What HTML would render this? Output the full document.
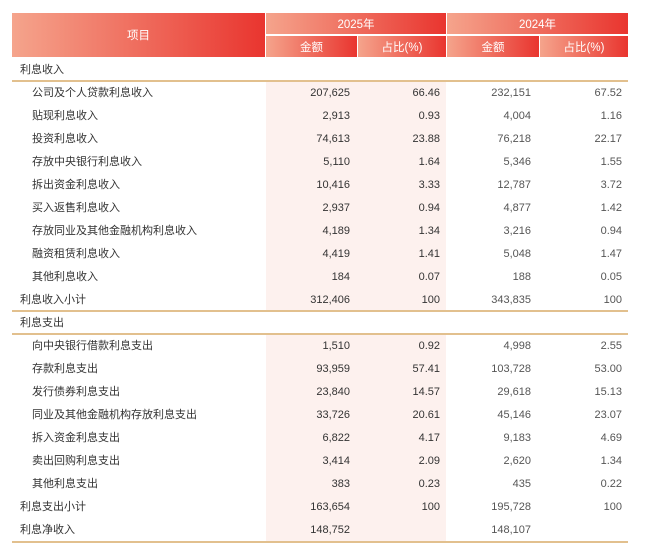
<!DOCTYPE html><html><head><meta charset="utf-8"><style>
body{margin:0;width:650px;height:546px;background:#fff;position:relative;overflow:hidden;font-family:"Liberation Sans","Noto Sans CJK SC",sans-serif;font-size:11px;color:#333}
.h{position:absolute;background:linear-gradient(90deg,#f5a48c,#e9352f);color:#fff;display:flex;align-items:center;justify-content:center;font-size:11.5px}
.pink{position:absolute;left:266px;width:180px;background:#fdf1ee}
.r{position:absolute;left:0;width:650px;height:23px;line-height:23px}
.r span{position:absolute}
.l{left:20px}.l2{left:32px}
.a{right:300px}.b{right:210px}.c{right:119px;color:#555}.d{right:28px;color:#555}
.g{position:absolute;left:12px;width:616px;height:2px;background:#e2c08e}
</style></head><body>
<div class="h" style="left:12px;top:13px;width:253px;height:44px">项目</div>
<div class="h" style="left:266px;top:13px;width:180px;height:21px">2025年</div>
<div class="h" style="left:447px;top:13px;width:181px;height:21px">2024年</div>
<div class="h" style="left:266px;top:36px;width:91px;height:21px">金额</div>
<div class="h" style="left:358px;top:36px;width:88px;height:21px">占比(%)</div>
<div class="h" style="left:447px;top:36px;width:92px;height:21px">金额</div>
<div class="h" style="left:540px;top:36px;width:88px;height:21px">占比(%)</div>
<div class="pink" style="top:82px;height:228px"></div>
<div class="pink" style="top:335px;height:206px"></div>
<div class="r" style="top:59px"><span class="l">利息收入</span></div>
<div class="g" style="top:80px"></div>
<div class="r" style="top:82px"><span class="l2">公司及个人贷款利息收入</span><span class="a">207,625</span><span class="b">66.46</span><span class="c">232,151</span><span class="d">67.52</span></div>
<div class="r" style="top:105px"><span class="l2">贴现利息收入</span><span class="a">2,913</span><span class="b">0.93</span><span class="c">4,004</span><span class="d">1.16</span></div>
<div class="r" style="top:128px"><span class="l2">投资利息收入</span><span class="a">74,613</span><span class="b">23.88</span><span class="c">76,218</span><span class="d">22.17</span></div>
<div class="r" style="top:151px"><span class="l2">存放中央银行利息收入</span><span class="a">5,110</span><span class="b">1.64</span><span class="c">5,346</span><span class="d">1.55</span></div>
<div class="r" style="top:174px"><span class="l2">拆出资金利息收入</span><span class="a">10,416</span><span class="b">3.33</span><span class="c">12,787</span><span class="d">3.72</span></div>
<div class="r" style="top:197px"><span class="l2">买入返售利息收入</span><span class="a">2,937</span><span class="b">0.94</span><span class="c">4,877</span><span class="d">1.42</span></div>
<div class="r" style="top:220px"><span class="l2">存放同业及其他金融机构利息收入</span><span class="a">4,189</span><span class="b">1.34</span><span class="c">3,216</span><span class="d">0.94</span></div>
<div class="r" style="top:243px"><span class="l2">融资租赁利息收入</span><span class="a">4,419</span><span class="b">1.41</span><span class="c">5,048</span><span class="d">1.47</span></div>
<div class="r" style="top:266px"><span class="l2">其他利息收入</span><span class="a">184</span><span class="b">0.07</span><span class="c">188</span><span class="d">0.05</span></div>
<div class="r" style="top:289px"><span class="l">利息收入小计</span><span class="a">312,406</span><span class="b">100</span><span class="c">343,835</span><span class="d">100</span></div>
<div class="g" style="top:310px"></div>
<div class="r" style="top:312px"><span class="l">利息支出</span></div>
<div class="g" style="top:333px"></div>
<div class="r" style="top:335px"><span class="l2">向中央银行借款利息支出</span><span class="a">1,510</span><span class="b">0.92</span><span class="c">4,998</span><span class="d">2.55</span></div>
<div class="r" style="top:358px"><span class="l2">存款利息支出</span><span class="a">93,959</span><span class="b">57.41</span><span class="c">103,728</span><span class="d">53.00</span></div>
<div class="r" style="top:381px"><span class="l2">发行债券利息支出</span><span class="a">23,840</span><span class="b">14.57</span><span class="c">29,618</span><span class="d">15.13</span></div>
<div class="r" style="top:404px"><span class="l2">同业及其他金融机构存放利息支出</span><span class="a">33,726</span><span class="b">20.61</span><span class="c">45,146</span><span class="d">23.07</span></div>
<div class="r" style="top:427px"><span class="l2">拆入资金利息支出</span><span class="a">6,822</span><span class="b">4.17</span><span class="c">9,183</span><span class="d">4.69</span></div>
<div class="r" style="top:450px"><span class="l2">卖出回购利息支出</span><span class="a">3,414</span><span class="b">2.09</span><span class="c">2,620</span><span class="d">1.34</span></div>
<div class="r" style="top:473px"><span class="l2">其他利息支出</span><span class="a">383</span><span class="b">0.23</span><span class="c">435</span><span class="d">0.22</span></div>
<div class="r" style="top:496px"><span class="l">利息支出小计</span><span class="a">163,654</span><span class="b">100</span><span class="c">195,728</span><span class="d">100</span></div>
<div class="r" style="top:519px"><span class="l">利息净收入</span><span class="a">148,752</span><span class="c">148,107</span></div>
<div class="g" style="top:541px"></div>
</body></html>
